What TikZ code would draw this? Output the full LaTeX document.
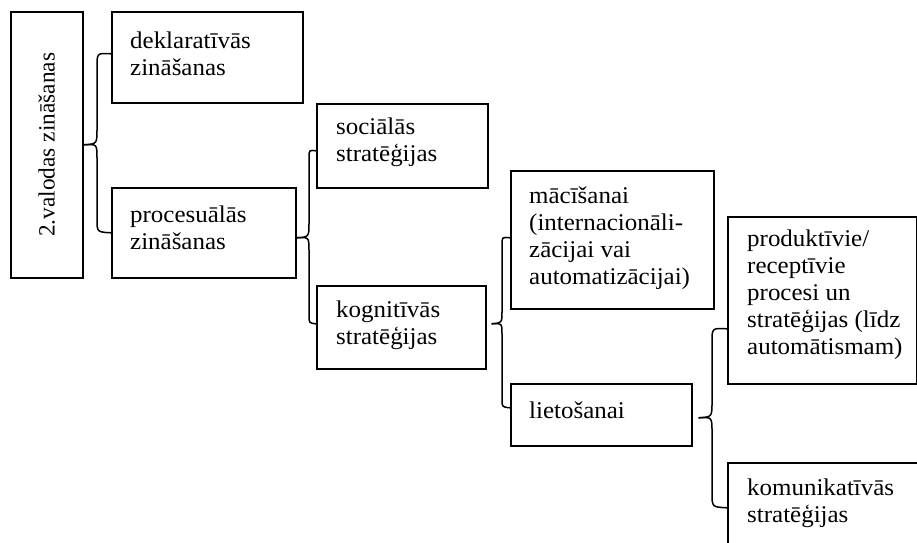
\documentclass[tikz,border=0pt]{standalone}
\usepackage{fontspec}
\setmainfont{Liberation Serif}[FakeStretch=1.04]
\newfontfamily\uprightfam{Liberation Serif}
\usetikzlibrary{calc}

\tikzset{
  box/.style={draw, line width=1.6pt, rectangle, inner sep=0pt, anchor=north west},
  lbl/.style={anchor=base west, inner sep=0pt, font=\fontsize{24}{27}\selectfont},
  brace/.style={line width=1.5pt},
}
\newcommand{\boxlines}[1]{\parbox[t]{200pt}{\raggedright #1}}

\begin{document}
\begin{tikzpicture}[x=1pt, y=-1pt]
  \clip (0,0) rectangle (917,542);

  % boxes
  \node[box, minimum width=72pt,  minimum height=266pt] (A) at (10,11)   {};
  \node[box, minimum width=191pt, minimum height=91pt]  (B) at (111,11)  {};
  \node[box, minimum width=184pt, minimum height=90pt]  (C) at (111,187) {};
  \node[box, minimum width=171pt, minimum height=84pt]  (D) at (316,103) {};
  \node[box, minimum width=169pt, minimum height=83pt]  (E) at (316,285) {};
  \node[box, minimum width=203pt, minimum height=138pt] (F) at (510,170) {};
  \node[box, minimum width=181pt, minimum height=62pt]  (G) at (510,383) {};
  \node[box, minimum width=189pt, minimum height=167pt] (H) at (727,216) {};
  \node[box, minimum width=203pt, minimum height=108pt] (I) at (727,462) {};

  % texts
  \node[rotate=90, inner sep=0pt, font=\uprightfam\fontsize{23.3}{27}\selectfont] (At) at (A.center) {2.valodas zināšanas};
  \node[lbl] (Bt) at (130,48)  {\boxlines{deklaratīvās\\zināšanas}};
  \node[lbl] (Ct) at (130,222) {\boxlines{procesuālās\\zināšanas}};
  \node[lbl] (Dt) at (336,134) {\boxlines{sociālās\\stratēģijas}};
  \node[lbl] (Et) at (336,317) {\boxlines{kognitīvās\\stratēģijas}};
  \node[lbl] (Ft) at (529,203) {\boxlines{mācīšanai\\(internacionāli-\\zācijai vai\\automatizācijai)}};
  \node[lbl] (Gt) at (529,418) {\boxlines{lietošanai}};
  \node[lbl] (Ht) at (747,246) {\boxlines{produktīvie/\\receptīvie\\procesi un\\stratēģijas (līdz\\automātismam)}};
  \node[lbl] (It) at (747,495) {\boxlines{komunikatīvās\\stratēģijas}};

  % braces
  \draw[brace] (A.east) .. controls (97,144) .. (97,129) -- (97,67)
    .. controls (97,53) .. ([yshift=3.5pt]B.west);
  \draw[brace] (A.east) .. controls (97,144) .. (97,158) -- (97,219)
    .. controls (97,232) .. (C.west);

  \draw[brace] ([yshift=-5pt]C.east) .. controls (309,237) .. (309,223) -- (309,158)
    .. controls (309,150) .. ([yshift=-5pt]D.west);
  \draw[brace] ([yshift=-5pt]C.east) .. controls (309,237) .. (309,251) -- (309,315)
    .. controls (309,323) .. ([yshift=3.5pt]E.west);

  \draw[brace] ([xshift=5pt,yshift=3.5pt]E.east) .. controls (502,323) .. (502,311) -- (502,245)
    .. controls (502,237) .. ([yshift=2pt]F.west);
  \draw[brace] ([xshift=5pt,yshift=3.5pt]E.east) .. controls (502,323) .. (502,335) -- (502,399)
    .. controls (502,407) .. ([yshift=7pt]G.west);

  \draw[brace] ([xshift=6pt,yshift=-3pt]G.east) .. controls (712,417) .. (712,402) -- (712,342)
    .. controls (712,328) .. ([yshift=-28.5pt]H.west);
  \draw[brace] ([xshift=6pt,yshift=-3pt]G.east) .. controls (712,417) .. (712,432) -- (712,493)
    .. controls (712,507) .. ([yshift=9pt]I.west);
\end{tikzpicture}
\end{document}
